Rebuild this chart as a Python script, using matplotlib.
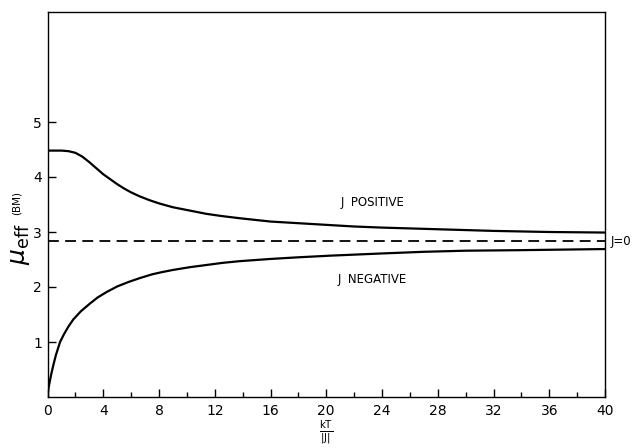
import matplotlib
matplotlib.use("Agg")
import matplotlib.pyplot as plt
from matplotlib.ticker import MultipleLocator, FixedLocator

# Data
pos_x = [0, 0.5, 1.0, 1.5, 2.0, 2.5, 3.0, 3.5, 4.0, 4.5, 5.0, 5.5, 6.0, 6.6, 7.3, 8.0,
         9.0, 10.0, 11.4, 12.5, 13.8, 16, 18, 20, 22, 24, 28, 32, 36, 40]
pos_y = [4.48, 4.48, 4.48, 4.47, 4.44, 4.37, 4.27, 4.16, 4.05, 3.96, 3.87, 3.79, 3.72,
         3.65, 3.58, 3.52, 3.45, 3.40, 3.33, 3.29, 3.25, 3.19, 3.16, 3.13, 3.10, 3.08,
         3.05, 3.02, 3.00, 2.99]

neg_x = [0, 0.05, 0.1, 0.2, 0.3, 0.42, 0.6, 0.9, 1.2, 1.5, 1.85, 2.4, 3.05, 3.6, 4.25,
         5.0, 5.8, 6.6, 7.5, 8.2, 9.0, 10.2, 11.4, 12.6, 13.8, 16, 18, 20.3, 24, 27, 30,
         34, 40]
neg_y = [0.02, 0.12, 0.2, 0.33, 0.45, 0.58, 0.76, 1.00, 1.15, 1.28, 1.41, 1.56, 1.70,
         1.81, 1.91, 2.01, 2.09, 2.16, 2.23, 2.27, 2.31, 2.36, 2.40, 2.44, 2.47, 2.51,
         2.54, 2.57, 2.61, 2.64, 2.66, 2.67, 2.69]

j0_x = [0, 40]
j0_y = [2.83, 2.83]

x_ticks = [0, 4, 8, 12, 16, 20, 24, 28, 32, 36, 40]
y_ticks = [1, 2, 3, 4, 5]

W, H = 633, 448
fig = plt.figure(figsize=(W / 100, H / 100), dpi=100)
ax = fig.add_axes([47.5 / W, (H - 397) / H, (605 - 47.5) / W, (397 - 12) / H])

ax.plot(pos_x, pos_y, color="black", lw=1.6, solid_capstyle="round", solid_joinstyle="round")
ax.plot(neg_x, neg_y, color="black", lw=1.6, solid_capstyle="round", solid_joinstyle="round")
ax.plot(j0_x, j0_y, color="black", lw=1.3, dashes=(6, 3.5))

ax.set_xlim(0, 40)
ax.set_ylim(0, 7)
ax.xaxis.set_major_locator(FixedLocator(x_ticks))
ax.xaxis.set_minor_locator(MultipleLocator(2))
ax.yaxis.set_major_locator(FixedLocator(y_ticks))
ax.set_xticklabels([str(t) for t in x_ticks])
ax.set_yticklabels([str(t) for t in y_ticks])

ax.tick_params(axis="both", which="major", direction="in", length=6, width=1.0,
               labelsize=10, colors="black")
ax.tick_params(axis="x", which="minor", direction="in", length=3.5, width=1.0)
ax.tick_params(axis="x", which="major", pad=5)
ax.tick_params(axis="y", which="major", pad=4)
ax.tick_params(top=False, right=False, which="both")
for s in ax.spines.values():
    s.set_linewidth(1.0)

ax.text(23.3, 3.54, "J  POSITIVE", fontsize=8.5, ha="center", va="center")
ax.text(23.3, 2.13, "J  NEGATIVE", fontsize=8.5, ha="center", va="center")
ax.text(40.4, 2.82, "J=0", fontsize=8.5, ha="left", va="center", clip_on=False)

# y label
fig.text(20 / W, (H - 244) / H, r"$\mu_{\mathrm{eff}}$", fontsize=18, rotation=90,
         ha="center", va="center")
fig.text(17 / W, (H - 203) / H, "(BM)", fontsize=7.5, rotation=90,
         ha="center", va="center")

# x label
fig.text(326 / W, 2 / H, r"$\frac{\mathsf{kT}}{\mathsf{|J|}}$", fontsize=10.5,
         ha="center", va="bottom")

fig.savefig("out.png", dpi=100)
